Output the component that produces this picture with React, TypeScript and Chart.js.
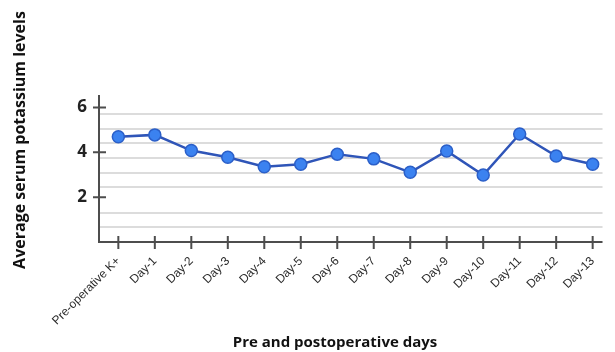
import React, { useEffect, useRef } from "react";
import { Chart, registerables } from "chart.js";

Chart.register(...registerables);

const categories = [
  "Pre-operative K+", "Day-1", "Day-2", "Day-3", "Day-4", "Day-5", "Day-6",
  "Day-7", "Day-8", "Day-9", "Day-10", "Day-11", "Day-12", "Day-13",
];
const potassium = [4.7, 4.78, 4.08, 3.78, 3.36, 3.47, 3.92, 3.71, 3.11, 4.06, 2.99, 4.82, 3.84, 3.47];
const yTickValues = [2, 4, 6];
const gridValues = [0.68, 1.31, 2.44, 3.09, 3.74, 4.4, 5.04, 5.7];
const yTitle = "Average serum potassium levels";
const xTitle = "Pre and postoperative days";

const crossTicks = {
  id: "crossTicks",
  afterDraw(chart: any) {
    const ctx = chart.ctx;
    const x = chart.scales.x;
    const y = chart.scales.y;
    const area = chart.chartArea;
    ctx.save();
    ctx.strokeStyle = "#4d4d4d";
    ctx.lineWidth = 2;
    ctx.beginPath();
    ctx.moveTo(area.left, area.top);
    ctx.lineTo(area.left, area.bottom);
    ctx.lineTo(area.right, area.bottom);
    ctx.stroke();
    ctx.beginPath();
    x.ticks.forEach((t: any) => {
      const px = x.getPixelForValue(t.value);
      ctx.moveTo(px, area.bottom - 6);
      ctx.lineTo(px, area.bottom + 7);
    });
    y.ticks.forEach((t: any) => {
      if (t.value === 0) return;
      const py = y.getPixelForValue(t.value);
      ctx.moveTo(area.left - 6, py);
      ctx.lineTo(area.left + 7, py);
    });
    ctx.stroke();
    ctx.fillStyle = "#111";
    ctx.textAlign = "center";
    ctx.textBaseline = "alphabetic";
    ctx.font = "bold 15px 'Open Sans'";
    ctx.fillText(xTitle, 335, 347);
    ctx.translate(25, 140);
    ctx.rotate(-Math.PI / 2);
    ctx.font = "bold 16px 'Open Sans'";
    ctx.fillText(yTitle, 0, 0);
    ctx.restore();
  },
};

export default function App() {
  const ref = useRef<HTMLCanvasElement>(null);
  useEffect(() => {
    const chart = new Chart(ref.current!, {
      type: "line",
      data: {
        datasets: [
          {
            data: potassium.map((v, i) => ({ x: i, y: v })),
            borderColor: "#2f55b8",
            borderWidth: 2.5,
            backgroundColor: "#3b82f0",
            pointBackgroundColor: "#3b82f0",
            pointBorderColor: "#2b5fc8",
            pointBorderWidth: 1.5,
            pointRadius: 6,
            tension: 0,
          },
        ],
      },
      options: {
        animation: false,
        responsive: false,
        layout: { padding: { top: 95, right: 8, left: 0, bottom: 0 } },
        plugins: { legend: { display: false }, tooltip: { enabled: false } },
        scales: {
          x: {
            type: "linear",
            min: -0.53,
            max: 13.27,
            afterBuildTicks: (s: any) => {
              s.ticks = categories.map((_, i) => ({ value: i }));
            },
            afterFit: (s: any) => {
              s.height = 110;
            },
            grid: { display: false, drawTicks: false },
            border: { display: false },
            ticks: {
              autoSkip: false,
              maxRotation: 45,
              minRotation: 45,
              padding: 12,
              color: "#2a2a2a",
              font: { family: "'Liberation Sans', Arial", size: 12 },
              callback: (v: any) => categories[v] ?? "",
            },
          },
          y: {
            min: 0,
            max: 6.56,
            afterBuildTicks: (s: any) => {
              s.ticks = yTickValues.map((v) => ({ value: v }));
            },
            afterFit: (s: any) => {
              s.width = 99;
            },
            grid: { display: false, drawTicks: false },
            border: { display: false },
            ticks: {
              padding: 12,
              color: "#222",
              font: { family: "'Open Sans'", size: 17, weight: "bold" },
            },
          },
          y2: {
            position: "left",
            min: 0,
            max: 6.56,
            display: true,
            afterBuildTicks: (s: any) => {
              s.ticks = gridValues.map((v) => ({ value: v }));
            },
            afterFit: (s: any) => {
              s.width = 0;
            },
            grid: { color: "#dcdcdc", lineWidth: 2, drawTicks: false },
            border: { display: false },
            ticks: { display: false },
          },
        },
      },
      plugins: [crossTicks],
    } as any);
    return () => chart.destroy();
  }, []);
  return (
    <div style={{ position: "fixed", left: 0, top: 0, width: 615, height: 352, background: "#fff" }}>
      <canvas ref={ref} width={615} height={352} style={{ width: 615, height: 352 }} />
    </div>
  );
}
